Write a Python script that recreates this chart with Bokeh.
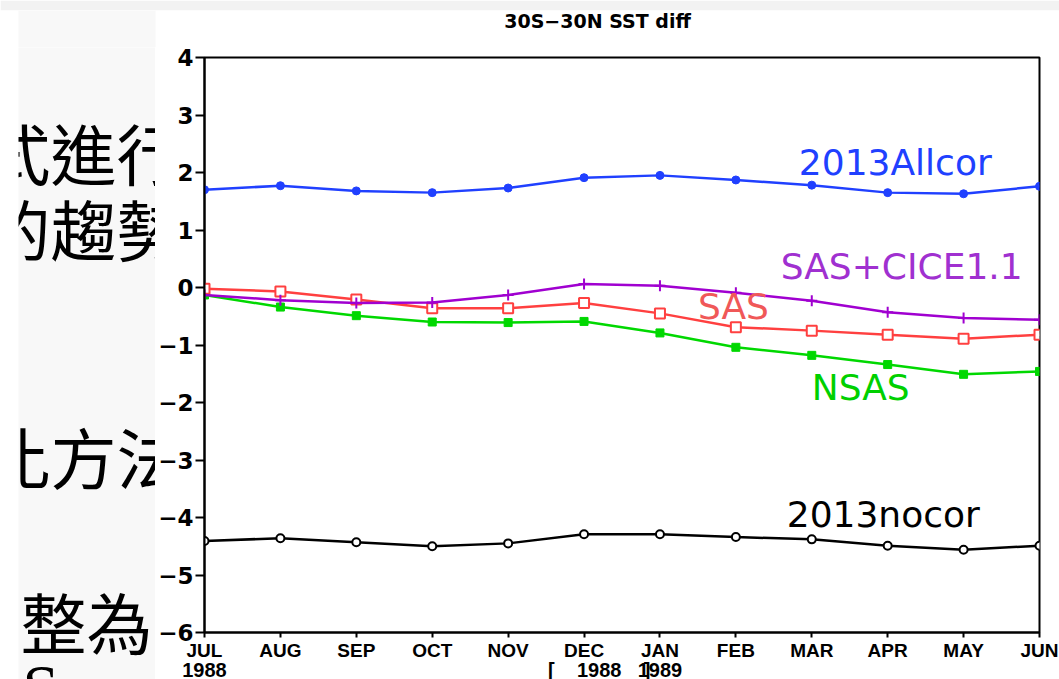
from bokeh.plotting import figure
from bokeh.layouts import column, row
from bokeh.models import Range1d, Label, FixedTicker, LinearAxis, BoxAnnotation
from bokeh.core.properties import value
from bokeh.embed import file_html
from bokeh.resources import INLINE

# ---- series (30S-30N SST difference, Jul 1988 - Jun 1989) ----
months = ["JUL", "AUG", "SEP", "OCT", "NOV", "DEC",
          "JAN", "FEB", "MAR", "APR", "MAY", "JUN"]
year_labels = {0: "1988", 5.2: "[\u00a0\u00a0\u00a0\u00a01988\u00a0\u00a0\u00a0\u00a0]", 6: "1989"}
y_ticks = [-6, -5, -4, -3, -2, -1, 0, 1, 2, 3, 4]

allcor_2013 = [1.70, 1.77, 1.68, 1.65, 1.73, 1.91, 1.95, 1.87, 1.78, 1.65, 1.63, 1.76]
sas = [-0.02, -0.07, -0.21, -0.36, -0.36, -0.27, -0.45, -0.69, -0.75, -0.82, -0.89, -0.82]
sas_cice = [-0.13, -0.22, -0.27, -0.26, -0.13, 0.06, 0.03, -0.09, -0.23, -0.43, -0.53, -0.56]
nsas = [-0.13, -0.34, -0.49, -0.60, -0.61, -0.59, -0.79, -1.04, -1.18, -1.34, -1.51, -1.46]
nocor_2013 = [-4.41, -4.36, -4.43, -4.50, -4.45, -4.29, -4.29, -4.34, -4.38, -4.49, -4.56, -4.49]

title_text = "30S\u221230N SST diff"

# slide text lines peeking out beside the chart
slide_lines = ["式進行", "的趨勢", "比方法", "整為"]

TICK_FONT = "Liberation Sans"
NUM_FONT = "DejaVu Sans"
LABEL_FONT = "DejaVu Sans"
PANEL_GREY = "#f8f8f8"

# ---- header band: grey top strip, start of the slide panel, chart title ----
head = figure(width=1059, height=47, toolbar_location=None, output_backend="svg",
              x_range=Range1d(0, 1059), y_range=Range1d(47, 10),
              min_border_top=10, min_border_left=0, min_border_right=0,
              min_border_bottom=0, x_axis_location=None, y_axis_location=None)
head.outline_line_color = None
head.grid.visible = False
head.background_fill_color = "white"
head.border_fill_color = "#f2f2f2"
head.frame_align = False
head.add_layout(BoxAnnotation(left=18, right=155, fill_color=PANEL_GREY,
                              fill_alpha=1, line_color=None, level="underlay"))
head.text(x=[597], y=[20], text=[title_text], text_font=value(NUM_FONT),
          text_font_size="19px", text_font_style="bold", text_color="black",
          text_align="center", text_baseline="middle")

# ---- left slide panel with clipped Chinese text ----
side = figure(width=155, height=652, toolbar_location=None, output_backend="svg",
              x_range=Range1d(18, 155), y_range=Range1d(699, 47),
              min_border_left=18, min_border_right=0, min_border_top=0,
              min_border_bottom=0, x_axis_location=None, y_axis_location=None)
side.outline_line_color = None
side.grid.visible = False
side.background_fill_color = PANEL_GREY
side.border_fill_color = "white"
side.frame_align = False

side.text(x=[-16, -16, -16, 20], y=[150, 226, 454, 619], text=slide_lines,
          text_font=value("Noto Sans CJK TC"), text_font_size="66px",
          text_color="black", text_align="left", text_baseline="middle")
side.text(x=[22], y=[650], text=["S"], text_font=value("Liberation Serif"),
          text_font_size="66px", text_color="black", text_align="left",
          text_baseline="top")

# ---- main chart ----
p = figure(width=904, height=652, toolbar_location=None, output_backend="svg",
           x_range=Range1d(0, 11), y_range=Range1d(-6, 4),
           min_border_left=48, min_border_right=20, min_border_top=10,
           min_border_bottom=67)
p.frame_align = False
p.grid.visible = False
p.background_fill_color = "white"
p.border_fill_color = "white"
p.outline_line_color = "black"
p.outline_line_width = 2

p.xaxis.ticker = FixedTicker(ticks=list(range(len(months))))
p.xaxis.major_label_overrides = {i: m for i, m in enumerate(months)}
p.yaxis.ticker = FixedTicker(ticks=y_ticks)
p.yaxis.major_label_overrides = {v: str(v).replace("-", "\u2212") for v in y_ticks}

for ax in (p.xaxis[0], p.yaxis[0]):
    ax.axis_line_color = "black"
    ax.axis_line_width = 2
    ax.major_tick_line_color = "black"
    ax.major_tick_line_width = 2
    ax.major_tick_in = 0
    ax.minor_tick_line_color = None
    ax.major_label_text_font_style = "bold"
    ax.major_label_text_color = "black"

p.xaxis.major_tick_out = 5
p.xaxis.major_label_standoff = 2
p.xaxis.major_label_text_font = TICK_FONT
p.xaxis.major_label_text_font_size = "19px"
p.yaxis.major_tick_out = 9
p.yaxis.major_label_standoff = 2
p.yaxis.major_label_text_font = NUM_FONT
p.yaxis.major_label_text_font_size = "23px"

# second row of the time axis: the years
year_axis = LinearAxis(ticker=FixedTicker(ticks=list(year_labels.keys())),
                       major_label_overrides=year_labels)
year_axis.axis_line_color = None
year_axis.major_tick_line_color = None
year_axis.minor_tick_line_color = None
year_axis.major_tick_out = 0
year_axis.major_tick_in = 0
year_axis.major_label_standoff = -5
year_axis.major_label_text_font = TICK_FONT
year_axis.major_label_text_font_style = "bold"
year_axis.major_label_text_font_size = "20px"
year_axis.major_label_text_color = "black"
p.add_layout(year_axis, "below")

x = list(range(len(months)))

# 2013nocor
p.line(x, nocor_2013, line_color="black", line_width=2.5)
p.scatter(x, nocor_2013, marker="circle", size=8, fill_color="white",
          line_color="black", line_width=2)
# 2013Allcor
p.line(x, allcor_2013, line_color="#2040ff", line_width=2.5)
p.scatter(x, allcor_2013, marker="circle", size=8, fill_color="#2040ff",
          line_color="#2040ff")
# NSAS
p.line(x, nsas, line_color="#00d800", line_width=2.5)
p.scatter(x, nsas, marker="square", size=8, fill_color="#00d800",
          line_color="#00d800")
# SAS
p.line(x, sas, line_color="#ff4040", line_width=2.5)
p.scatter(x, sas, marker="square", size=10, fill_color="white",
          line_color="#ff4040", line_width=2)
# SAS+CICE1.1
p.line(x, sas_cice, line_color="#a000d0", line_width=2.5)
p.scatter(x, sas_cice, marker="cross", size=11, line_color="#a000d0", line_width=2)

# series names
series_tags = [
    ("2013Allcor", 7.83, 2.17, "#2040ff"),
    ("SAS+CICE1.1", 7.59, 0.36, "#a030d0"),
    ("SAS", 6.50, -0.33, "#f05858"),
    ("NSAS", 8.00, -1.74, "#00d000"),
    ("2013nocor", 7.67, -3.95, "black"),
]
for txt, tx, ty, col in series_tags:
    p.add_layout(Label(x=tx, y=ty, text=txt, text_color=col,
                       text_font=LABEL_FONT, text_font_size="36px",
                       text_align="left", text_baseline="alphabetic"))

layout = column(head, row(side, p))
html = file_html(layout, INLINE)
html = html.replace("</head>", "<style>html, body { overflow: hidden; }</style>\n</head>", 1)
open("out.html", "w").write(html)
